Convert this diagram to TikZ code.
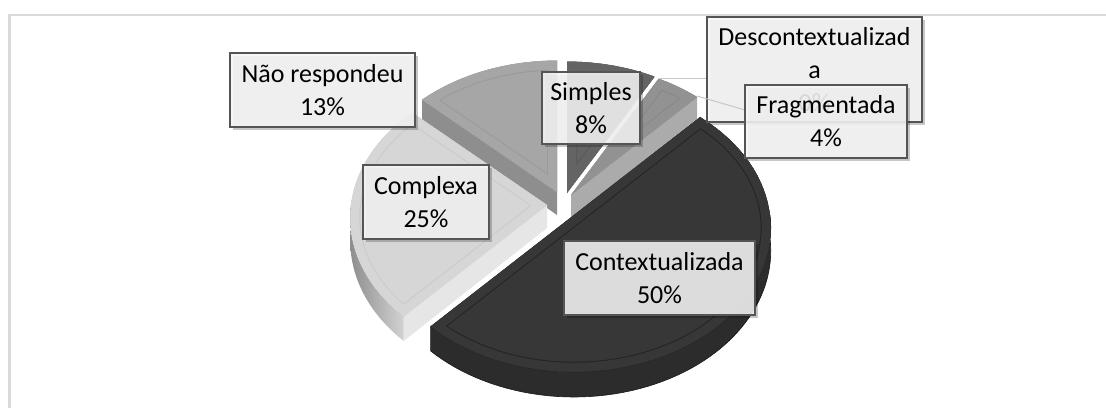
\documentclass[tikz,border=0pt]{standalone}
\usepackage{fontspec}
\setmainfont{Carlito}
\usetikzlibrary{shadows}
\definecolor{framec}{HTML}{D9D9D9}
\definecolor{boxline}{HTML}{555555}
\definecolor{boxfill}{HTML}{F5F5F5}
\definecolor{leader}{HTML}{C8C8C8}
\definecolor{ntop}{HTML}{A6A6A6}
\definecolor{nline}{HTML}{9A9A9A}
\definecolor{nface}{HTML}{8E8E8E}
\definecolor{stop}{HTML}{646464}
\definecolor{sline}{HTML}{5A5A5A}
\definecolor{ftop}{HTML}{929292}
\definecolor{fline}{HTML}{888888}
\definecolor{fface}{HTML}{ABABAB}
\definecolor{cxtop}{HTML}{D6D6D6}
\definecolor{cxline}{HTML}{CACACA}
\definecolor{cxface}{HTML}{E6E6E6}
\definecolor{cxwallA}{HTML}{8E8E8E}
\definecolor{cxwallB}{HTML}{D2D2D2}
\definecolor{cttop}{HTML}{373737}
\definecolor{ctline}{HTML}{242424}
\definecolor{ctwall}{HTML}{2C2C2C}

\newcommand{\slicetop}[6]{%
  \begin{scope}
    \clip (#1,#2) -- plot[domain=#3:#4,samples=60] ({#1+ex(\x)},{#2+ey(\x)}) -- cycle;
    \fill[#5] (#1,#2) -- plot[domain=#3:#4,samples=60] ({#1+ex(\x)},{#2+ey(\x)}) -- cycle;
    \draw[#6, line width=20pt, line join=round] (#1,#2) -- plot[domain=#3:#4,samples=60] ({#1+ex(\x)},{#2+ey(\x)}) -- cycle;
    \draw[#5, line width=18pt, line join=round] (#1,#2) -- plot[domain=#3:#4,samples=60] ({#1+ex(\x)},{#2+ey(\x)}) -- cycle;
  \end{scope}
}
\newcommand{\slicewall}[5]{%
  \path[#5] plot[domain=#3:#4,samples=60] ({#1+ex(\x)},{#2+ey(\x)}) -- plot[domain=#4:#3,samples=60] ({#1+ex(\x)},{#2+ey(\x)+dd(\x)}) -- cycle;
}
\newcommand{\sliceface}[4]{%
  \path[#4] (#1,#2) -- ({#1+ex(#3)},{#2+ey(#3)}) -- ({#1+ex(#3)},{#2+ey(#3)+dd(#3)}) -- (#1,{#2+23}) -- cycle;
}

\begin{document}
\begin{tikzpicture}[x=1pt,y=-1pt,
  declare function={ps(\t)=1/(1+0.088*cos(\t)); ex(\t)=196*sin(\t)*ps(\t); ey(\t)=-143*cos(\t)*ps(\t); dd(\t)=23*ps(\t);},
  lbl/.style={draw=boxline, line width=1.5pt, fill=boxfill, fill opacity=0.88, draw opacity=1, text opacity=1,
    align=center, inner sep=0pt, font=\fontsize{26}{33}\selectfont,
    drop shadow={shadow xshift=3pt, shadow yshift=-3pt, opacity=0.22, fill=black}},
  leaderline/.style={draw=leader, line width=1pt}]
\useasboundingbox (0,0) rectangle (1106,408);
\fill[white] (0,0) rectangle (1106,408);
\draw[framec, line width=2.2pt] (9.5,408) -- (9.5,15) -- (1106,15);

% Nao respondeu
\sliceface{557}{192}{313.2}{fill=nface}
\slicetop{557}{192}{313.2}{360}{ntop}{nline}
% Simples
\slicetop{567}{193}{0}{28.8}{stop}{sline}
% Fragmentada
\sliceface{571}{195}{43.2}{fill=fface}
\slicetop{571}{195}{28.8}{43.2}{ftop}{fline}
% Complexa
\sliceface{547}{205}{223.2}{fill=cxface}
\slicewall{547}{205}{223.2}{270}{left color=cxwallA, right color=cxwallB}
\slicetop{547}{205}{223.2}{313.2}{cxtop}{cxline}
% Contextualizada
\slicewall{574}{215}{90}{223.2}{fill=ctwall, draw=black!90, line width=0.6pt}
\slicetop{574}{215}{43.2}{223.2}{cttop}{ctline}

% leaders
\coordinate (l1a) at (660,78);
\coordinate (l2a) at (697,96);

% labels
\node[lbl, minimum width=215pt, minimum height=105pt] (desc) at (814.5,69.5) {Descontextualizad\\a\\0\%};
\draw[leaderline] (l1a) -- (desc.west |- l1a);
\draw[leaderline] (l2a) -- (745,110) coordinate (l2b);
\node[lbl, minimum width=162pt, minimum height=73pt] (frag) at (826,121.5) {Fragmentada\\4\%};
\node[lbl, minimum width=185pt, minimum height=74pt] (nr) at (322.5,90) {Não respondeu\\13\%};
\node[lbl, minimum width=126pt, minimum height=74pt] (cx) at (426,202) {Complexa\\25\%};
\node[lbl, minimum width=98pt, minimum height=72pt] (simp) at (591,108) {Simples\\8\%};
\node[lbl, minimum width=191pt, minimum height=74pt] (ct) at (659.5,278) {Contextualizada\\50\%};
\end{tikzpicture}
\end{document}
